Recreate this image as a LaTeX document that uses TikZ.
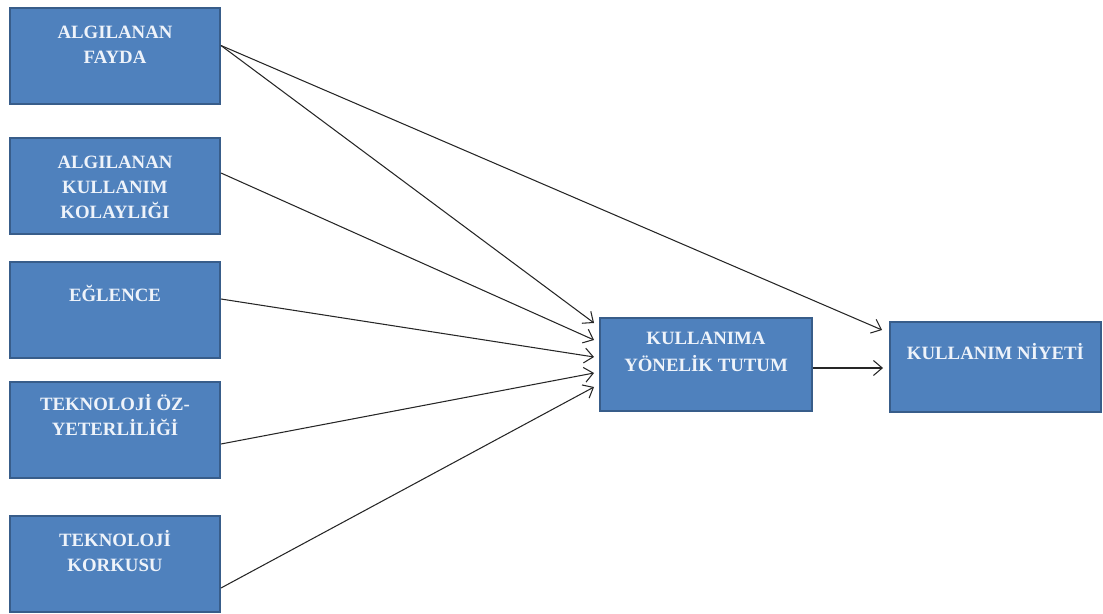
\documentclass[tikz,border=0pt]{standalone}
\usepackage{fontspec}
\setmainfont{Liberation Serif}
\usepackage{tikz}
\usepackage{xcolor}
\usetikzlibrary{arrows.meta, positioning}

\definecolor{boxfill}{HTML}{4F81BD}
\definecolor{boxline}{HTML}{385D8A}
\definecolor{boxtext}{HTML}{EEF3FA}
\definecolor{linkcol}{HTML}{262626}

% top-aligned text inside a box of fixed size
\newcommand{\boxtext}[4][17.2pt]{\parbox[c][#2][t]{#3}{\centering\rule{0pt}{#1}#4}}

\begin{document}
\begin{tikzpicture}[
    box/.style={rectangle, draw=boxline, fill=boxfill, line width=1.1pt, inner sep=0pt,
        text=boxtext, font=\fontsize{10.7}{14.2}\selectfont\bfseries},
    link/.style={-{Straight Barb[length=5pt, width=8.5pt]}, draw=linkcol, line width=0.6pt}
]
    \useasboundingbox (0,0) rectangle (22.06,-12.28);

    % Factors
    \node[box] (fayda) at (2.3,-1.12) {\boxtext{1.92cm}{4.2cm}{ALGILANAN\\FAYDA}};
    \node[box] (kolaylik) at (2.3,-3.72) {\boxtext{1.92cm}{4.2cm}{ALGILANAN\\KULLANIM\\KOLAYLIĞI}};
    \node[box] (eglence) at (2.3,-6.20) {\boxtext[22.3pt]{1.92cm}{4.2cm}{EĞLENCE}};
    \node[box] (yeterlilik) at (2.3,-8.60) {\boxtext[16pt]{1.92cm}{4.2cm}{TEKNOLOJİ ÖZ-\\YETERLİLİĞİ}};
    \node[box] (korku) at (2.3,-11.28) {\boxtext{1.92cm}{4.2cm}{TEKNOLOJİ\\KORKUSU}};

    % Attitude and intention
    \node[box] (tutum) at (14.12,-7.29) {\boxtext[15pt]{1.86cm}{4.24cm}{KULLANIMA\\[1.2pt]YÖNELİK TUTUM}};
    \node[box] (niyet) at (19.91,-7.34) {\boxtext[21.2pt]{1.80cm}{4.22cm}{KULLANIM NİYETİ}};

    % Connections
    \draw[link] ([yshift=0.21cm]fayda.east) -- ([xshift=-0.1cm, yshift=0.83cm]tutum.west);
    \draw[link] ([yshift=0.21cm]fayda.east) -- ([xshift=-0.14cm, yshift=0.74cm]niyet.west);
    \draw[link] ([yshift=0.26cm]kolaylik.east) -- ([xshift=-0.1cm, yshift=0.49cm]tutum.west);
    \draw[link] ([yshift=0.22cm]eglence.east) -- ([xshift=-0.1cm, yshift=0.15cm]tutum.west);
    \draw[link] ([yshift=-0.28cm]yeterlilik.east) -- ([xshift=-0.1cm, yshift=-0.17cm]tutum.west);
    \draw[link] ([yshift=-0.48cm]korku.east) -- ([xshift=-0.1cm, yshift=-0.45cm]tutum.west);
    \draw[link] ([yshift=-0.07cm]tutum.east) -- ([xshift=-0.12cm, yshift=-0.02cm]niyet.west);
\end{tikzpicture}
\end{document}
